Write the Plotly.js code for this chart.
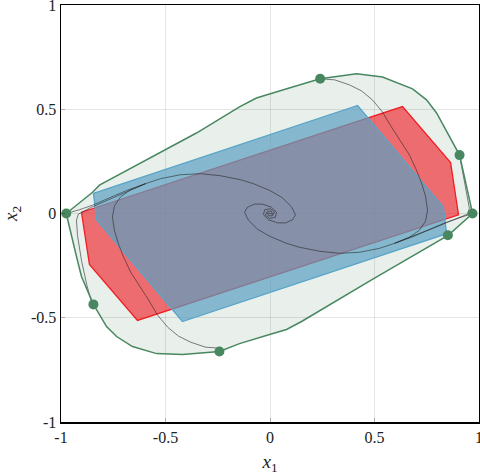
<!DOCTYPE html>
<html>
<head>
<meta charset="utf-8">
<script src="https://cdn.plot.ly/plotly-3.0.1.min.js"></script>
<style>html,body{margin:0;padding:0;background:#fff;}#chart{width:480px;height:476px;}</style>
</head>
<body>
<div id="chart"></div>
<script>
// Outer (green) hull
const hullX = [-0.975,-0.849,-0.816,-0.352,-0.146,-0.065,0.108,0.240,0.414,0.490,0.538,0.682,0.749,0.797,0.892,0.907,0.955,0.969,0.854,0.490,0.151,0.079,-0.002,-0.146,-0.242,-0.419,-0.543,-0.658,-0.734,-0.782,-0.845,-0.902,-0.926,-0.950,-0.975];
const hullY = [0.000,0.102,0.136,0.386,0.511,0.554,0.607,0.646,0.670,0.660,0.655,0.598,0.545,0.482,0.304,0.280,0.064,0.000,-0.104,-0.316,-0.518,-0.556,-0.580,-0.624,-0.662,-0.676,-0.672,-0.638,-0.590,-0.542,-0.436,-0.302,-0.206,-0.109,0.000];
// Vertex markers
const vertX = [-0.975,-0.845,-0.242,0.851,0.969,0.907,0.240];
const vertY = [0.000,-0.436,-0.662,-0.104,0.000,0.280,0.646];
// Red set
const redX = [-0.902,-0.864,-0.634,0.902,0.864,0.634,-0.902];
const redY = [0.006,-0.244,-0.513,-0.006,0.244,0.513,0.006];
// Blue set
const blueX = [-0.845,-0.830,-0.419,0.845,0.830,0.419,-0.845];
const blueY = [0.097,-0.030,-0.518,-0.097,0.030,0.518,0.097];
// Trajectories
const traj1X = [0.240,0.309,0.380,0.438,0.490,0.538,0.581,0.629,0.667,0.701,0.725,0.744,0.754,0.744,0.715,0.667,0.596,0.524,0.428,0.333,0.237,0.141,0.079,-0.002,-0.060,-0.103,-0.122,-0.108,-0.074,-0.036,0.007,0.031,0.026,-0.002,-0.022,-0.012,0.007,0.012,0.002,0];
const traj1Y = [0.646,0.641,0.617,0.588,0.545,0.487,0.415,0.343,0.281,0.208,0.146,0.083,0.016,-0.037,-0.080,-0.114,-0.143,-0.167,-0.186,-0.191,-0.181,-0.162,-0.143,-0.109,-0.075,-0.032,0.006,0.030,0.045,0.045,0.030,0.006,-0.018,-0.023,-0.008,0.011,0.011,-0.003,-0.003,0];
const traj2X = [-0.240,-0.309,-0.380,-0.438,-0.490,-0.538,-0.581,-0.629,-0.667,-0.701,-0.725,-0.744,-0.754,-0.744,-0.715,-0.667,-0.596,-0.524,-0.428,-0.333,-0.237,-0.141,-0.079,0.002,0.060,0.103,0.122,0.108,0.074,0.036,-0.007,-0.031,-0.026,0.002,0.022,0.012,-0.007,-0.012,-0.002,0];
const traj2Y = [-0.646,-0.641,-0.617,-0.588,-0.545,-0.487,-0.415,-0.343,-0.281,-0.208,-0.146,-0.083,-0.016,0.037,0.080,0.114,0.143,0.167,0.186,0.191,0.181,0.162,0.143,0.109,0.075,0.032,-0.006,-0.030,-0.045,-0.045,-0.030,-0.006,0.018,0.023,0.008,-0.011,-0.011,0.003,0.003,0];
const traj3X = [-0.975,-0.912,-0.849,-0.768,-0.687,-0.596];
const traj3Y = [0.000,0.018,0.040,0.074,0.110,0.143];
const traj4X = [-0.852,-0.876,-0.902,-0.921,-0.926,-0.917,-0.859,-0.768,-0.672,-0.596];
const traj4Y = [-0.432,-0.345,-0.225,-0.105,-0.032,-0.003,0.028,0.068,0.110,0.143];
const traj5X = [0.969,0.912,0.849,0.768,0.687,0.596];
const traj5Y = [0.000,-0.018,-0.040,-0.074,-0.110,-0.143];
const traj6X = [0.907,0.930,0.954,0.945,0.859,0.768,0.672,0.596];
const traj6Y = [0.280,0.160,0.025,-0.003,-0.040,-0.076,-0.112,-0.143];
// Ticks
const tickVals = [-1,-0.5,0,0.5,1];
const tickText = ['-1','-0.5','0','0.5','1'];

const green = 'rgb(72,135,96)';
const serif = 'Liberation Serif';
const trajStyle = {color:'rgb(40,40,40)', width:0.6};
function traj(x,y){return {x:x,y:y,type:'scatter',mode:'lines',line:trajStyle,hoverinfo:'skip',showlegend:false};}

const data = [
  {x:hullX,y:hullY,type:'scatter',mode:'none',fill:'toself',fillcolor:'rgba(72,135,96,0.12)',showlegend:false,hoverinfo:'skip'},
  {x:redX,y:redY,type:'scatter',mode:'lines',fill:'toself',fillcolor:'rgba(240,20,30,0.6)',line:{color:'rgb(240,30,35)',width:1.3},showlegend:false,hoverinfo:'skip'},
  {x:blueX,y:blueY,type:'scatter',mode:'lines',fill:'toself',fillcolor:'rgba(90,160,194,0.7)',line:{color:'rgb(90,165,200)',width:1.3},showlegend:false,hoverinfo:'skip'},
  traj(traj1X,traj1Y), traj(traj2X,traj2Y), traj(traj3X,traj3Y), traj(traj4X,traj4Y), traj(traj5X,traj5Y), traj(traj6X,traj6Y),
  {x:hullX,y:hullY,type:'scatter',mode:'lines',line:{color:green,width:1.5},showlegend:false,hoverinfo:'skip'},
  {x:vertX,y:vertY,type:'scatter',mode:'markers',marker:{color:green,size:10,symbol:'circle'},showlegend:false,hoverinfo:'skip'}
];

const axisCommon = {
  range:[-1,1], tickvals:tickVals, ticktext:tickText, showgrid:true, gridcolor:'rgba(0,0,0,0.1)', gridwidth:1,
  zeroline:false, showline:true, mirror:true, linecolor:'black', linewidth:1.5,
  ticks:'inside', ticklen:4, tickcolor:'rgba(0,0,0,0.25)', tickwidth:1,
  ticklabeloverflow:'allow',
  tickfont:{family:serif, size:16, color:'#222'}
};
const layout = {
  width:480, height:476,
  margin:{l:61,r:1,t:5,b:54},
  paper_bgcolor:'white', plot_bgcolor:'white',
  xaxis:Object.assign({}, axisCommon, {title:{text:'<i>x</i><sub>1</sub>', standoff:10, font:{family:serif, size:19, color:'#222'}}}),
  yaxis:Object.assign({}, axisCommon, {title:{text:'<i>x</i><sub>2</sub>', standoff:10, font:{family:serif, size:19, color:'#222'}}}),
  showlegend:false
};
Plotly.newPlot('chart', data, layout, {staticPlot:true, displayModeBar:false});
</script>
</body>
</html>
